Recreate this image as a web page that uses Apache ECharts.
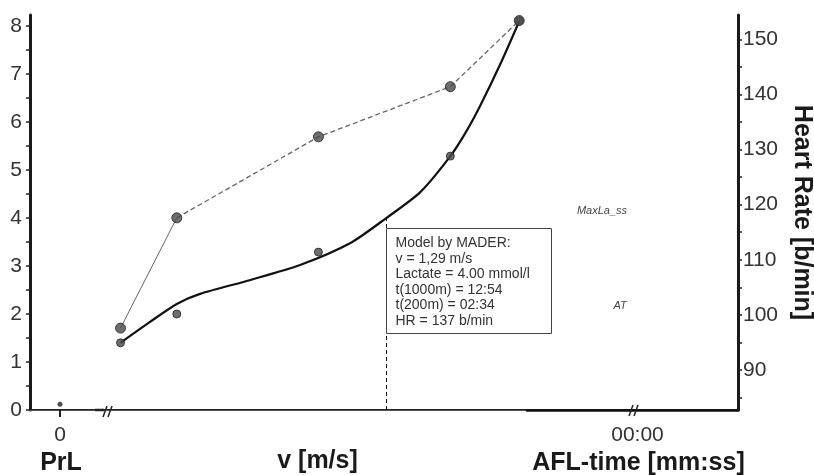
<!DOCTYPE html>
<html>
<head>
<meta charset="utf-8">
<title>Lactate / Heart Rate</title>
<script src="https://cdn.jsdelivr.net/npm/echarts@6/dist/echarts.min.js"></script>
<style>
  html, body { margin: 0; padding: 0; background: #fff; }
  #chart { width: 814px; height: 475px; }
</style>
</head>
<body>
<div id="chart"></div>
<script>
// measured step test
const speeds = [1.016, 1.074, 1.22, 1.356, 1.427];
const lactate = [1.4, 2.0, 3.29, 5.29, 8.11];
const heartRate = [97.6, 117.6, 132.3, 141.4, 153.4];

// fitted lactate curve
const curveSpeeds = [1.016, 1.046, 1.074, 1.098, 1.15, 1.201, 1.253, 1.29, 1.325, 1.356, 1.372, 1.387, 1.408, 1.427];
const curveLactate = [1.4, 1.83, 2.21, 2.42, 2.71, 3.02, 3.48, 4.0, 4.54, 5.29, 5.79, 6.35, 7.23, 8.1];

// resting value
const prlX = [0];
const prlLactate = [0.12];

// model result
const modelSpeed = 1.29;
const modelLactate = 4.0;
const modelLines = [
  "Model by MADER:",
  "v = 1,29 m/s",
  "Lactate = 4.00 mmol/l",
  "t(1000m) = 12:54",
  "t(200m) = 02:34",
  "HR = 137 b/min"
];

// axis ticks
const lactateLabels = [0, 1, 2, 3, 4, 5, 6, 7, 8];
const lactateTicks = [0, 0.5, 1, 1.5, 2, 2.5, 3, 3.5, 4, 4.5, 5, 5.5, 6, 6.5, 7, 7.5, 8];
const hrLabels = [90, 100, 110, 120, 130, 140, 150];
const hrTicks = [85, 90, 95, 100, 105, 110, 115, 120, 125, 130, 135, 140, 145, 150];

const FONT = "Liberation Sans";
const LA_MIN = 0, LA_MAX = 8.23;
const HR_MIN = 82.74, HR_MAX = 154.41;

const chart = echarts.init(document.getElementById("chart"));

const hiddenLa = gridIndex => ({ gridIndex, type: "value", min: LA_MIN, max: LA_MAX, show: false });
const hiddenHr = gridIndex => ({ gridIndex, type: "value", min: HR_MIN, max: HR_MAX, show: false });
const nameStyle = extra => Object.assign({ fontFamily: FONT, fontSize: 25, fontWeight: "bold", color: "#1a1a1a" }, extra);
const box = opts => Object.assign({ top: 15, bottom: 65, outerBoundsMode: "none", containLabel: false }, opts);

chart.setOption({
  animation: false,
  backgroundColor: "#fff",
  textStyle: { fontFamily: FONT },
  grid: [
    box({ left: 30, right: 76 }), // frame
    box({ left: 30, width: 75 }), // PrL
    box({ left: 105, width: 422 }), // v
    box({ left: 527, right: 76 }) // AFL
  ],
  xAxis: [
    {
      gridIndex: 0, type: "value", position: "top", min: 0, max: 1,
      axisLine: { lineStyle: { color: "#222", width: 2 } },
      axisTick: { show: false }, axisLabel: { show: false }, splitLine: { show: false }
    },
    {
      gridIndex: 1, type: "value", min: -1, max: 1.5,
      name: "PrL", nameLocation: "middle", nameGap: 39,
      nameTextStyle: nameStyle({ padding: [0, 13, 0, 0] }),
      axisLine: { lineStyle: { color: "#555", width: 1 } },
      axisTick: { customValues: prlX, length: 7, lineStyle: { color: "#222", width: 2 } },
      axisLabel: { customValues: prlX, fontSize: 21, color: "#333", margin: 15 },
      splitLine: { show: false }
    },
    {
      gridIndex: 2, type: "value", min: 1.0, max: 1.435,
      name: "v [m/s]", nameLocation: "middle", nameGap: 39,
      nameTextStyle: nameStyle({ padding: [0, 0, 0, 3] }),
      axisLine: { lineStyle: { color: "#555", width: 1 } },
      axisTick: { show: false }, axisLabel: { show: false }, splitLine: { show: false }
    },
    {
      gridIndex: 3, type: "value", min: -1.1, max: 1,
      name: "AFL-time [mm:ss]", nameLocation: "middle", nameGap: 39,
      nameTextStyle: nameStyle({ padding: [0, 0, 0, 12] }),
      axisLine: { lineStyle: { color: "#111", width: 2.5 } },
      axisTick: { show: false },
      axisLabel: { customValues: [0], fontSize: 21, color: "#333", margin: 15, formatter: () => "00:00" },
      splitLine: { show: false }
    }
  ],
  yAxis: [
    {
      gridIndex: 0, type: "value", position: "left", min: LA_MIN, max: LA_MAX,
      axisLine: { show: true, lineStyle: { color: "#1a1a1a", width: 3 } },
      axisTick: { show: true, customValues: lactateTicks, length: 4, lineStyle: { color: "#222", width: 1.5 } },
      axisLabel: { customValues: lactateLabels, fontSize: 21, color: "#333", margin: 8 },
      splitLine: { show: false }
    },
    {
      gridIndex: 0, type: "value", position: "right", min: HR_MIN, max: HR_MAX,
      name: "Heart Rate [b/min]", nameLocation: "middle", nameGap: 50, nameRotate: -90,
      nameTextStyle: nameStyle({}),
      axisLine: { show: true, lineStyle: { color: "#1a1a1a", width: 3 } },
      axisTick: { show: true, customValues: hrTicks, length: 4, lineStyle: { color: "#222", width: 1.5 } },
      axisLabel: { customValues: hrLabels, fontSize: 21, color: "#333", margin: 5 },
      splitLine: { show: false }
    },
    hiddenLa(1),
    hiddenLa(2),
    hiddenHr(2),
    hiddenHr(3)
  ],
  series: [
    {
      name: "PrL",
      type: "scatter",
      xAxisIndex: 1, yAxisIndex: 2,
      symbolSize: 5,
      itemStyle: { color: "#222" },
      data: prlX.map((x, i) => [x, prlLactate[i]])
    },
    {
      name: "Lactate model",
      type: "line",
      xAxisIndex: 2, yAxisIndex: 3,
      smooth: 0.25,
      showSymbol: false,
      lineStyle: { color: "#111", width: 2.2 },
      data: curveSpeeds.map((v, i) => [v, curveLactate[i]]),
      markLine: {
        silent: true,
        symbol: "none",
        label: { show: false },
        lineStyle: { color: "#111", width: 1, type: [4, 3] },
        data: [[{ coord: [modelSpeed, 0] }, { coord: [modelSpeed, modelLactate] }]]
      }
    },
    {
      name: "Lactate",
      type: "scatter",
      xAxisIndex: 2, yAxisIndex: 3,
      symbolSize: 8,
      itemStyle: { color: "#4a4a4a", borderColor: "#222", borderWidth: 1 },
      z: 4,
      data: speeds.map((v, i) => [v, lactate[i]])
    },
    {
      name: "HR first",
      type: "line",
      xAxisIndex: 2, yAxisIndex: 4,
      showSymbol: false,
      lineStyle: { color: "#666", width: 1 },
      data: speeds.slice(0, 2).map((v, i) => [v, heartRate[i]])
    },
    {
      name: "HR",
      type: "line",
      xAxisIndex: 2, yAxisIndex: 4,
      showSymbol: false,
      lineStyle: { color: "#666", width: 1.3, type: [5, 3] },
      data: speeds.slice(1).map((v, i) => [v, heartRate[i + 1]])
    },
    {
      name: "HR points",
      type: "scatter",
      xAxisIndex: 2, yAxisIndex: 4,
      symbolSize: 10,
      itemStyle: { color: "#4a4a4a", borderColor: "#222", borderWidth: 1 },
      z: 4,
      data: speeds.map((v, i) => [v, heartRate[i]])
    }
  ]
});

// annotation box anchored at the model point
const p = chart.convertToPixel({ xAxisIndex: 2, yAxisIndex: 3 }, [modelSpeed, modelLactate]);
const boxX = Math.round(p[0]) + 0.5;
const boxY = Math.round(p[1]) + 10.5;

chart.setOption({
  graphic: [
    {
      type: "rect", z: 10,
      shape: { x: boxX, y: boxY, width: 165, height: 105 },
      style: { fill: "#fff", stroke: "#444", lineWidth: 1 }
    },
    {
      type: "text", z: 11,
      x: boxX + 9, y: boxY + 7,
      style: {
        text: modelLines.join("\n"),
        font: "14px " + FONT,
        lineHeight: 15.5,
        fill: "#333"
      }
    },
    {
      type: "text", z: 11, x: 602, y: 211,
      style: { text: "MaxLa_ss", font: "italic 11px " + FONT, fill: "#444", align: "center", verticalAlign: "middle" }
    },
    {
      type: "text", z: 11, x: 620, y: 306,
      style: { text: "AT", font: "italic 11px " + FONT, fill: "#444", align: "center", verticalAlign: "middle" }
    },
    // axis break marks
    { type: "line", z: 12, shape: { x1: 95, y1: 410, x2: 104, y2: 410 }, style: { stroke: "#222", lineWidth: 2.5 } },
    { type: "line", z: 12, shape: { x1: 103, y1: 417, x2: 107, y2: 406 }, style: { stroke: "#222", lineWidth: 1.5 } },
    { type: "line", z: 12, shape: { x1: 108, y1: 417, x2: 112, y2: 406 }, style: { stroke: "#222", lineWidth: 1.5 } },
    { type: "line", z: 12, shape: { x1: 629, y1: 416, x2: 633, y2: 405 }, style: { stroke: "#222", lineWidth: 1.5 } },
    { type: "line", z: 12, shape: { x1: 634, y1: 416, x2: 638, y2: 405 }, style: { stroke: "#222", lineWidth: 1.5 } }
  ]
});
</script>
</body>
</html>
